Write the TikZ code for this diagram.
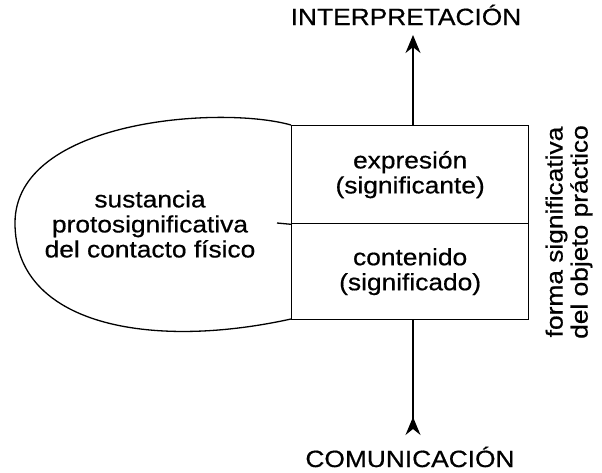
\documentclass[tikz,border=0pt]{standalone}
\usepackage{fontspec}
\setmainfont{Liberation Sans}[FakeStretch=1.12,FakeBold=0.6]
\usetikzlibrary{arrows.meta}
\begin{document}
\begin{tikzpicture}[x=1pt,y=-1pt,
  txt/.style={font=\fontsize{23.5}{25}\selectfont, align=center, inner sep=0pt},
  cell/.style={draw, line width=1.3pt, minimum width=237pt, inner sep=0pt, align=center, font=\fontsize{23.5}{25}\selectfont},
  ln/.style={line width=1.3pt}]
\useasboundingbox (0,0) rectangle (602,472);
% left shape
\draw[ln] (291,125) .. controls (220,105) and (15,120) .. (15,223)
  .. controls (15,325) and (150,350) .. (291,319);
% box
\node[cell, minimum height=98pt, anchor=north west] (expr) at (291,125) {expresión\\(significante)};
\node[cell, minimum height=96pt, anchor=north west] (cont) at (291,223) {contenido\\(significado)};
\coordinate (tick) at (277,223);
\draw[ln] (tick) -- (expr.south west);
% texts
\node[txt] (sust) at (150,224) {sustancia\\protosignificativa\\del contacto físico};
\node[txt, rotate=90] (forma) at (569,232) {forma significativa\\del objeto práctico};
\node[txt, anchor=base] (interp) at (406,25) {INTERPRETACIÓN};
\node[txt, anchor=base] (comu) at (410,467) {COMUNICACIÓN};
% arrows
\coordinate (tipTop) at (413,35);
\coordinate (tailBot) at (413,435);
\draw[ln, -{Stealth[length=18pt,width=15pt]}] (expr.north -| tipTop) -- (tipTop);
\draw[ln, -{Stealth[length=18pt,width=15pt,inset=6pt,reversed]}] (cont.south -| tailBot) -- (tailBot);
\end{tikzpicture}
\end{document}
